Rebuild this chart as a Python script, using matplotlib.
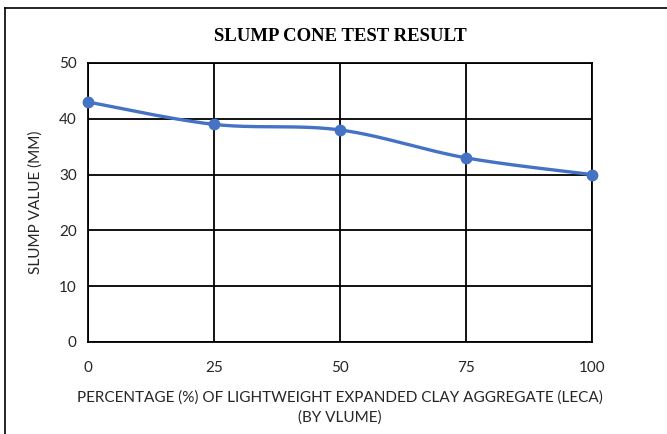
import numpy as np
import matplotlib.pyplot as plt
from matplotlib.lines import Line2D

pct_leca = [0, 25, 50, 75, 100]
slump_mm = [43, 39, 38, 33, 30]
x_ticks = [0, 25, 50, 75, 100]
y_ticks = [0, 10, 20, 30, 40, 50]

title = "SLUMP CONE TEST RESULT"
xlabel = "PERCENTAGE (%) OF LIGHTWEIGHT EXPANDED CLAY AGGREGATE (LECA)\n(BY VLUME)"
ylabel = "SLUMP VALUE (MM)"

BLUE = "#4472C4"
label_font = ["Lato", "DejaVu Sans"]


def smooth(x, y, n=40):
    # Excel-style smoothed line: Catmull-Rom segments as cubic Beziers
    x, y = np.asarray(x, float), np.asarray(y, float)
    pts = np.column_stack([x, y])
    p = np.vstack([pts[0], pts, pts[-1]])
    out = []
    t = np.linspace(0, 1, n)[:, None]
    for i in range(1, len(p) - 2):
        p0, p1, p2, p3 = p[i - 1], p[i], p[i + 1], p[i + 2]
        c1 = p1 + (p2 - p0) / 6
        c2 = p2 - (p3 - p1) / 6
        seg = ((1 - t) ** 3) * p1 + 3 * ((1 - t) ** 2) * t * c1 + 3 * (1 - t) * t ** 2 * c2 + t ** 3 * p2
        out.append(seg if i == 1 else seg[1:])
    out = np.vstack(out)
    return out[:, 0], out[:, 1]


fig = plt.figure(figsize=(6.67, 4.34), dpi=100)
ax = fig.add_axes([0.1319, 0.2120, 0.7556, 0.6429])

sx, sy = smooth(pct_leca, slump_mm)
ax.plot(sx, sy, color=BLUE, lw=2.4, zorder=3, clip_on=False)
ax.plot(pct_leca, slump_mm, "o", color=BLUE, ms=7.5, zorder=4, clip_on=False)

ax.set_xlim(0, 100)
ax.set_ylim(0, 50)
ax.set_xticks(x_ticks)
ax.set_yticks(y_ticks)
ax.grid(True, color="black", lw=1.3)
ax.set_axisbelow(True)
for s in ax.spines.values():
    s.set_color("black")
    s.set_linewidth(1.3)
ax.tick_params(length=0, labelsize=11, pad=8, colors="#262626")
for lab in ax.get_xticklabels() + ax.get_yticklabels():
    lab.set_family(label_font)
ax.tick_params(axis="x", pad=14)

ax.set_xlabel(xlabel, family=label_font, fontsize=11, labelpad=11, linespacing=1.5, color="#262626")
ax.set_ylabel(ylabel, family=label_font, fontsize=11, labelpad=12, color="#262626")
fig.text(0.51, 0.917, title, ha="center", va="center", family="Liberation Serif",
         fontweight="bold", fontsize=13.5)

# chart frame (top and left edges visible)
fig.add_artist(Line2D([0.007, 0.007], [0, 0.982], transform=fig.transFigure, color="black", lw=1.2))
fig.add_artist(Line2D([0.007, 1], [0.982, 0.982], transform=fig.transFigure, color="black", lw=1.2))

fig.savefig("out.png", dpi=100)
